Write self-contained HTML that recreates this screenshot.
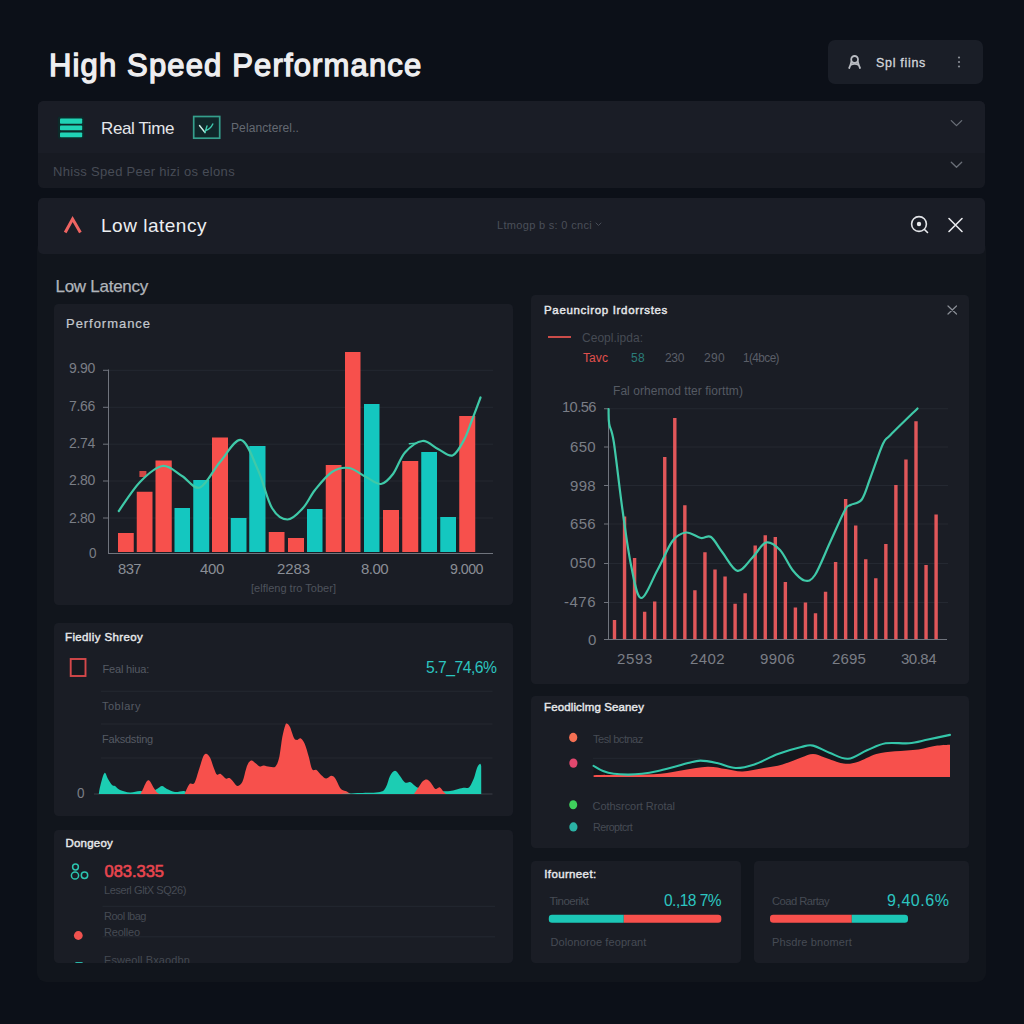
<!DOCTYPE html>
<html><head><meta charset="utf-8"><title>High Speed Performance</title>
<style>
html,body{margin:0;padding:0;}
body{width:1024px;height:1024px;overflow:hidden;background:#0c1018;font-family:"Liberation Sans",sans-serif;position:relative;}
.t{position:absolute;white-space:nowrap;}
.b{position:absolute;}
svg{position:absolute;left:0;top:0;}
</style></head><body>
<!-- top-right button -->
<div class="b" style="left:828px;top:40px;width:155px;height:44px;border-radius:7px;background:#1a1e27;"></div>
<!-- panel 1 -->
<div class="b" style="left:37.5px;top:101px;width:947.5px;height:86.5px;border-radius:5.5px;background:#171a22;overflow:hidden;"><div class="b" style="left:0;top:0;width:949px;height:52px;background:#1a1d26;"></div></div>
<!-- outer container -->
<div class="b" style="left:37px;top:240px;width:949px;height:742px;border-radius:9px;background:#11151c;"></div>
<!-- panel 2 -->
<div class="b" style="left:37.5px;top:197.5px;width:947.5px;height:56px;border-radius:5px;background:#1a1d26;"></div>
<!-- cards -->
<div class="b" style="left:54px;top:304px;width:459px;height:301px;border-radius:4.5px;background:#1a1d25;"></div>
<div class="b" style="left:54px;top:623px;width:459px;height:193px;border-radius:4.5px;background:#1a1d25;"></div>
<div class="b" style="left:54px;top:829.5px;width:459px;height:133px;border-radius:4.5px;background:#1a1d25;"></div>
<div class="b" style="left:531px;top:294.5px;width:438px;height:389.5px;border-radius:4.5px;background:#1a1d25;"></div>
<div class="b" style="left:531px;top:695.5px;width:438px;height:152.5px;border-radius:4.5px;background:#1a1d25;"></div>
<div class="b" style="left:531px;top:860.5px;width:209.5px;height:102px;border-radius:4.5px;background:#1a1d25;"></div>
<div class="b" style="left:753.5px;top:860.5px;width:215.5px;height:102px;border-radius:4.5px;background:#1a1d25;"></div>
<svg width="1024" height="1024" viewBox="0 0 1024 1024">
<!-- icons -->
<g id="icons">
<rect x="57.8" y="116.5" width="26.2" height="22.3" rx="2" fill="#0c2b2a"/><rect x="60" y="118.4" width="22.2" height="5.3" rx="0.8" fill="#20d3b5"/><rect x="60" y="125.6" width="22.2" height="4.6" rx="0.8" fill="#20d3b5"/><rect x="60" y="132.4" width="22.2" height="4.9" rx="0.8" fill="#20d3b5"/>
<rect x="193.7" y="116.5" width="26" height="21.7" fill="#10272a" stroke="#359f8c" stroke-width="1.7"/>
<path d="M199.5,125.5 L205,132.5" fill="none" stroke="#cfeee6" stroke-width="1.4" stroke-linecap="round"/><path d="M205,132.5 L207,126 M206.3,130.3 Q210.5,129 212.8,124" fill="none" stroke="#3fc9ae" stroke-width="1.4" stroke-linecap="round"/>
<path d="M65.2,232.5 L72.6,219 L80.4,232.5" fill="none" stroke="#ee6462" stroke-width="3" stroke-linecap="butt" stroke-linejoin="miter"/>
<!-- user icon -->
<circle cx="854.6" cy="59.4" r="3.4" fill="none" stroke="#b9bcc2" stroke-width="1.8"/><path d="M851.5,61.5 Q850.6,65 849.2,68 M857.7,61.5 Q858.6,65 860,68 M850.6,65 Q854.6,62.6 858.6,65" fill="none" stroke="#b9bcc2" stroke-width="1.8" stroke-linecap="round"/>
<circle cx="959" cy="57.5" r="1.1" fill="#8a8e96"/><circle cx="959" cy="62" r="1.1" fill="#8a8e96"/><circle cx="959" cy="66.5" r="1.1" fill="#8a8e96"/>
<path d="M951.3,120.6 L956.5,125.6 L961.7,120.6" fill="none" stroke="#6a6f78" stroke-width="1.3" stroke-linecap="round" stroke-linejoin="round"/>
<path d="M951.3,162.3 L956.5,167.3 L961.7,162.3" fill="none" stroke="#6a6f78" stroke-width="1.3" stroke-linecap="round" stroke-linejoin="round"/>
<path d="M596,223 L598.5,225.5 L601,223" fill="none" stroke="#474c56" stroke-width="1" stroke-linecap="round"/>
<circle cx="919" cy="224" r="7.4" fill="none" stroke="#e2e4e8" stroke-width="1.6"/><circle cx="919" cy="224" r="2.2" fill="#e8eaed"/><path d="M924.5,229.5 L927.5,232.5" stroke="#e8eaed" stroke-width="1.6" stroke-linecap="round"/>
<path d="M949,218.5 L962,231.5 M962,218.5 L949,231.5" stroke="#e8eaed" stroke-width="1.6" stroke-linecap="round"/>
<path d="M948,306 L956.5,314 M956.5,306 L948,314" stroke="#8a8e96" stroke-width="1.2" stroke-linecap="round"/>
<line x1="548" y1="337" x2="571" y2="337" stroke="#e0524f" stroke-width="1.8"/>
<rect x="70.7" y="659" width="14.8" height="17" fill="#17191f" stroke="#d4484a" stroke-width="1.9"/>
<circle cx="75.5" cy="867" r="2.9" fill="none" stroke="#2cc5b0" stroke-width="1.5"/><circle cx="75" cy="875.5" r="3.6" fill="none" stroke="#2cc5b0" stroke-width="1.5"/><circle cx="84.5" cy="875.3" r="3.2" fill="none" stroke="#2cc5b0" stroke-width="1.5"/>
<circle cx="78.3" cy="935.5" r="4.4" fill="#f0524f"/>
<ellipse cx="573.2" cy="737.5" rx="4.1" ry="4.7" fill="#f47053"/><ellipse cx="573.4" cy="763.1" rx="4.1" ry="4.7" fill="#e2486f"/><ellipse cx="573.2" cy="804.7" rx="4" ry="4.5" fill="#3fd05c"/><ellipse cx="573.4" cy="826.9" rx="4.1" ry="4.6" fill="#2bb3a5"/>
</g>
<g id="lchart">
<line x1="108.6" y1="370.3" x2="493" y2="370.3" stroke="#242831" stroke-width="1"/>
<line x1="103" y1="370.3" x2="108.6" y2="370.3" stroke="#70747d" stroke-width="1"/>
<line x1="108.6" y1="407.3" x2="493" y2="407.3" stroke="#242831" stroke-width="1"/>
<line x1="103" y1="407.3" x2="108.6" y2="407.3" stroke="#70747d" stroke-width="1"/>
<line x1="108.6" y1="444.2" x2="493" y2="444.2" stroke="#242831" stroke-width="1"/>
<line x1="103" y1="444.2" x2="108.6" y2="444.2" stroke="#70747d" stroke-width="1"/>
<line x1="108.6" y1="481" x2="493" y2="481" stroke="#242831" stroke-width="1"/>
<line x1="103" y1="481" x2="108.6" y2="481" stroke="#70747d" stroke-width="1"/>
<line x1="108.6" y1="518" x2="493" y2="518" stroke="#242831" stroke-width="1"/>
<line x1="103" y1="518" x2="108.6" y2="518" stroke="#70747d" stroke-width="1"/>
<line x1="108.5" y1="369.5" x2="108.5" y2="553.7" stroke="#70747d" stroke-width="1"/>
<rect x="139.4" y="471" width="7" height="6" fill="#cf4744"/>
<rect x="118" y="533" width="15.75" height="19" fill="#f7504c"/>
<rect x="136.75" y="491.75" width="15.75" height="60.25" fill="#f7504c"/>
<rect x="155.5" y="460.5" width="16.25" height="91.5" fill="#f7504c"/>
<rect x="174.5" y="508" width="15.5" height="44" fill="#14c7c0"/>
<rect x="193.25" y="480" width="16.0" height="72" fill="#14c7c0"/>
<rect x="212" y="437.5" width="16" height="114.5" fill="#f7504c"/>
<rect x="230.75" y="518" width="15.75" height="34" fill="#14c7c0"/>
<rect x="249.25" y="446" width="16.25" height="106" fill="#14c7c0"/>
<rect x="268.75" y="532" width="15.75" height="20" fill="#f7504c"/>
<rect x="288" y="538" width="16" height="14" fill="#f7504c"/>
<rect x="307" y="509" width="15.5" height="43" fill="#14c7c0"/>
<rect x="325.75" y="465" width="15.75" height="87" fill="#f7504c"/>
<rect x="345" y="352" width="15.5" height="200" fill="#f7504c"/>
<rect x="364" y="404" width="15.5" height="148" fill="#14c7c0"/>
<rect x="383" y="510" width="16" height="42" fill="#f7504c"/>
<rect x="402.25" y="461" width="16.0" height="91" fill="#f7504c"/>
<rect x="421.25" y="452" width="15.75" height="100" fill="#14c7c0"/>
<rect x="440.25" y="517" width="15.75" height="35" fill="#14c7c0"/>
<rect x="459.25" y="416" width="16.0" height="136" fill="#f7504c"/>
<line x1="108" y1="553.5" x2="493" y2="553.5" stroke="#70747d" stroke-width="1"/>
<path d="M118.8,511.0C122.3,506.2 132.7,489.5 140.0,482.0C147.3,474.5 155.5,467.0 162.5,466.0C169.5,465.0 175.8,472.4 182.0,476.0C188.2,479.6 193.7,489.8 200.0,487.5C206.3,485.2 213.2,469.9 220.0,462.0C226.8,454.1 234.7,438.7 241.0,440.0C247.3,441.3 252.8,458.7 258.0,470.0C263.2,481.3 267.1,499.8 272.0,508.0C276.9,516.2 282.3,519.5 287.5,519.5C292.7,519.5 298.4,512.9 303.0,508.0C307.6,503.1 310.2,496.0 315.0,490.0C319.8,484.0 326.3,475.7 332.0,472.0C337.7,468.3 343.3,467.2 349.0,468.0C354.7,468.8 360.7,474.3 366.0,477.0C371.3,479.7 376.5,484.5 381.0,484.0C385.5,483.5 389.0,479.2 393.0,474.0C397.0,468.8 400.1,458.0 405.0,452.5C409.9,447.0 417.0,441.6 422.5,441.0C428.0,440.4 433.0,446.6 438.0,449.0C443.0,451.4 448.2,457.0 452.5,455.5C456.8,454.0 460.8,445.9 464.0,440.0C467.2,434.1 469.2,427.1 472.0,420.0C474.8,412.9 479.1,401.2 480.5,397.5" fill="none" stroke="#3fc9a8" stroke-width="2.2" stroke-linecap="round"/>
<line x1="409.3" y1="443.8" x2="416" y2="443.2" stroke="#3fc9a8" stroke-width="1.4" stroke-linecap="round"/>
</g>
<g id="rchart">
<line x1="608.6" y1="408.75" x2="948" y2="408.75" stroke="#242831" stroke-width="1"/>
<line x1="604" y1="408.75" x2="608.6" y2="408.75" stroke="#70747d" stroke-width="1"/>
<line x1="608.6" y1="447" x2="948" y2="447" stroke="#242831" stroke-width="1"/>
<line x1="604" y1="447" x2="608.6" y2="447" stroke="#70747d" stroke-width="1"/>
<line x1="608.6" y1="485.5" x2="948" y2="485.5" stroke="#242831" stroke-width="1"/>
<line x1="604" y1="485.5" x2="608.6" y2="485.5" stroke="#70747d" stroke-width="1"/>
<line x1="608.6" y1="524" x2="948" y2="524" stroke="#242831" stroke-width="1"/>
<line x1="604" y1="524" x2="608.6" y2="524" stroke="#70747d" stroke-width="1"/>
<line x1="608.6" y1="563.5" x2="948" y2="563.5" stroke="#242831" stroke-width="1"/>
<line x1="604" y1="563.5" x2="608.6" y2="563.5" stroke="#70747d" stroke-width="1"/>
<line x1="608.6" y1="602.5" x2="948" y2="602.5" stroke="#242831" stroke-width="1"/>
<line x1="604" y1="602.5" x2="608.6" y2="602.5" stroke="#70747d" stroke-width="1"/>
<line x1="608.5" y1="408" x2="608.5" y2="639.5" stroke="#70747d" stroke-width="1"/>
<rect x="612.80" y="620" width="3.4" height="19" fill="#e1575a"/>
<rect x="622.85" y="516.5" width="3.4" height="122.5" fill="#e1575a"/>
<rect x="632.90" y="558" width="3.4" height="81" fill="#e1575a"/>
<rect x="642.95" y="611.75" width="3.4" height="27.25" fill="#e1575a"/>
<rect x="653.00" y="601.5" width="3.4" height="37.5" fill="#e1575a"/>
<rect x="663.05" y="457" width="3.4" height="182" fill="#e1575a"/>
<rect x="673.10" y="418" width="3.4" height="221" fill="#e1575a"/>
<rect x="683.15" y="505.25" width="3.4" height="133.75" fill="#e1575a"/>
<rect x="693.20" y="590.25" width="3.4" height="48.75" fill="#e1575a"/>
<rect x="703.25" y="552.25" width="3.4" height="86.75" fill="#e1575a"/>
<rect x="713.30" y="569.5" width="3.4" height="69.5" fill="#e1575a"/>
<rect x="723.35" y="576.5" width="3.4" height="62.5" fill="#e1575a"/>
<rect x="733.40" y="603.75" width="3.4" height="35.25" fill="#e1575a"/>
<rect x="743.45" y="593.25" width="3.4" height="45.75" fill="#e1575a"/>
<rect x="753.50" y="545.5" width="3.4" height="93.5" fill="#e1575a"/>
<rect x="763.55" y="535.25" width="3.4" height="103.75" fill="#e1575a"/>
<rect x="773.60" y="537" width="3.4" height="102" fill="#e1575a"/>
<rect x="783.65" y="582" width="3.4" height="57" fill="#e1575a"/>
<rect x="793.70" y="607.5" width="3.4" height="31.5" fill="#e1575a"/>
<rect x="803.75" y="602.5" width="3.4" height="36.5" fill="#e1575a"/>
<rect x="813.80" y="613.25" width="3.4" height="25.75" fill="#e1575a"/>
<rect x="823.85" y="591.75" width="3.4" height="47.25" fill="#e1575a"/>
<rect x="833.90" y="562" width="3.4" height="77" fill="#e1575a"/>
<rect x="843.95" y="499" width="3.4" height="140" fill="#e1575a"/>
<rect x="854.00" y="525.5" width="3.4" height="113.5" fill="#e1575a"/>
<rect x="864.05" y="559.25" width="3.4" height="79.75" fill="#e1575a"/>
<rect x="874.10" y="578.25" width="3.4" height="60.75" fill="#e1575a"/>
<rect x="884.15" y="544" width="3.4" height="95" fill="#e1575a"/>
<rect x="894.20" y="485" width="3.4" height="154" fill="#e1575a"/>
<rect x="904.25" y="459.5" width="3.4" height="179.5" fill="#e1575a"/>
<rect x="914.30" y="421.25" width="3.4" height="217.75" fill="#e1575a"/>
<rect x="924.35" y="565" width="3.4" height="74" fill="#e1575a"/>
<rect x="934.40" y="514.5" width="3.4" height="124.5" fill="#e1575a"/>
<line x1="604" y1="639.5" x2="947" y2="639.5" stroke="#70747d" stroke-width="1"/>
<path d="M608.6,409.0C608.7,411.5 608.3,418.5 609.2,424.0C610.1,429.5 611.5,427.7 613.8,442.0C616.0,456.3 619.6,489.5 622.5,510.0C625.4,530.5 627.9,550.3 631.0,565.0C634.1,579.7 636.6,597.2 641.0,598.0C645.4,598.8 652.2,579.5 657.5,570.0C662.8,560.5 667.8,547.2 672.5,541.0C677.2,534.8 681.2,533.0 686.0,532.5C690.8,532.0 696.8,537.2 701.0,538.0C705.2,538.8 707.4,534.6 711.0,537.0C714.6,539.4 718.1,546.9 722.5,552.5C726.9,558.1 732.5,569.9 737.5,570.8C742.5,571.6 747.8,562.2 752.5,557.5C757.2,552.8 761.4,543.8 766.0,542.5C770.6,541.2 775.6,545.4 780.0,550.0C784.4,554.6 788.4,564.9 792.5,570.0C796.6,575.1 800.8,579.7 804.5,580.5C808.2,581.3 810.8,581.3 815.0,575.0C819.2,568.7 825.0,553.3 830.0,542.5C835.0,531.7 841.6,516.2 845.0,510.0C848.4,503.8 847.7,506.8 850.5,505.0C853.3,503.2 858.4,504.1 861.8,499.5C865.1,494.9 867.0,486.8 870.5,477.5C874.0,468.2 879.7,450.8 883.0,443.8C886.3,436.7 884.8,440.9 890.5,435.0C896.2,429.1 913.0,412.9 917.5,408.5" fill="none" stroke="#3fc9a8" stroke-width="2.2" stroke-linecap="round"/>
</g>
<g id="area1">
<line x1="101" y1="691.25" x2="492.5" y2="691.25" stroke="#242831" stroke-width="1"/>
<line x1="101" y1="724" x2="492.5" y2="724" stroke="#242831" stroke-width="1"/>
<line x1="101" y1="758" x2="492.5" y2="758" stroke="#242831" stroke-width="1"/>
<line x1="94" y1="794" x2="492.5" y2="794" stroke="#3a3e47" stroke-width="1"/>
<path d="M98.8,794.0C99.0,792.5 99.5,788.5 100.5,785.0C101.5,781.5 103.2,774.0 104.5,773.0C105.8,772.0 106.8,777.0 108.0,779.0C109.2,781.0 110.8,783.8 112.0,785.0C113.2,786.2 113.7,785.2 115.0,786.0C116.3,786.8 117.5,788.9 120.0,790.0C122.5,791.1 126.7,792.3 130.0,792.5C133.3,792.7 136.7,791.1 140.0,791.0C143.3,790.9 147.2,792.3 150.0,792.0C152.8,791.7 155.0,790.0 157.0,789.0C159.0,788.0 160.3,786.0 162.0,786.0C163.7,786.0 164.8,788.0 167.0,789.0C169.2,790.0 172.2,791.7 175.0,792.0C177.8,792.3 181.8,790.7 184.0,791.0C186.2,791.3 187.3,793.5 188.0,794.0L188,794L98.75,794Z" fill="#1ccdb3"/>
<path d="M140.5,794.0C140.9,793.2 142.1,790.9 143.0,789.0C143.9,787.1 145.1,784.0 146.0,782.5C146.9,781.0 147.6,780.4 148.3,780.3C149.1,780.2 149.6,780.8 150.5,782.0C151.4,783.2 152.4,785.8 153.5,787.5C154.6,789.2 156.0,791.4 157.0,792.5C158.0,793.6 159.1,793.8 159.5,794.0Z" fill="#f7504c"/>
<path d="M184.6,794.0C185.4,792.3 187.9,785.8 189.5,784.0C191.1,782.2 192.8,785.6 194.4,783.0C196.0,780.4 197.8,772.8 199.3,768.4C200.8,764.0 202.1,759.0 203.2,756.6C204.3,754.2 205.0,753.5 206.1,753.7C207.2,753.9 208.7,755.2 210.0,757.6C211.3,760.0 212.8,765.6 214.0,768.4C215.2,771.2 215.8,773.7 216.9,774.6C218.0,775.5 218.9,773.1 220.4,773.8C221.9,774.4 224.2,777.8 225.7,778.5C227.2,779.2 228.3,777.5 229.6,778.1C230.9,778.7 232.2,780.7 233.5,782.0C234.8,783.3 235.9,786.0 237.4,786.0C238.9,786.0 240.8,784.9 242.3,782.0C243.8,779.1 245.1,771.7 246.2,768.4C247.3,765.1 248.1,763.4 249.1,762.1C250.1,760.8 250.9,760.3 252.0,760.5C253.1,760.7 254.6,762.5 255.9,763.5C257.2,764.5 258.5,766.1 259.8,766.4C261.1,766.7 262.1,765.3 263.8,765.4C265.4,765.5 267.6,766.6 269.6,766.8C271.6,767.0 273.9,768.1 275.5,766.4C277.1,764.7 278.3,761.5 279.4,756.6C280.5,751.7 281.3,742.3 282.3,737.1C283.3,731.9 284.4,727.6 285.2,725.4C286.0,723.2 286.4,723.5 287.2,723.8C288.0,724.1 289.0,724.9 290.1,727.3C291.2,729.7 292.9,736.0 294.0,738.1C295.1,740.2 295.9,739.9 297.0,740.0C298.1,740.1 299.6,737.8 300.9,738.5C302.2,739.2 303.5,741.0 304.8,744.0C306.1,747.0 307.5,752.4 308.7,756.6C309.9,760.8 310.9,767.1 312.2,769.3C313.5,771.5 315.0,768.9 316.5,769.9C318.0,770.9 319.8,773.8 321.4,775.2C323.0,776.6 324.6,778.4 326.2,778.5C327.9,778.6 329.6,775.9 331.1,775.8C332.6,775.7 333.7,776.4 335.0,778.1C336.3,779.8 337.9,784.0 339.0,786.0C340.1,788.0 340.6,788.9 341.9,789.8C343.2,790.7 345.3,790.7 346.8,791.4C348.2,792.1 350.0,793.6 350.7,794.0L350.7,794L184.6,794Z" fill="#f7504c"/>
<path d="M340.0,794.0C343.3,793.8 353.3,793.3 360.0,793.0C366.7,792.7 375.7,793.0 380.0,792.0C384.3,791.0 384.3,789.7 386.0,787.0C387.7,784.3 388.5,778.7 390.0,776.0C391.5,773.3 393.3,770.8 395.0,770.8C396.7,770.8 398.3,774.0 400.0,776.0C401.7,778.0 403.3,781.5 405.0,782.5C406.7,783.5 408.5,781.6 410.0,782.0C411.5,782.4 412.8,784.1 414.0,785.0C415.2,785.9 415.7,786.7 417.5,787.5C419.3,788.3 421.2,789.4 425.0,790.0C428.8,790.6 435.8,790.8 440.0,791.0C444.2,791.2 446.2,791.5 450.0,791.0C453.8,790.5 459.7,788.5 462.5,788.0C465.3,787.5 465.8,788.3 467.0,788.0C468.2,787.7 468.8,787.9 470.0,786.2C471.2,784.6 472.8,781.0 474.0,778.0C475.2,775.0 476.0,770.4 477.0,768.0C478.0,765.6 479.3,764.1 480.0,763.8C480.7,763.4 481.0,765.6 481.2,766.0L481.25,794L340,794Z" fill="#1ccdb3"/>
<path d="M414.0,794.0C414.7,793.0 416.5,790.2 418.0,788.0C419.5,785.8 421.5,782.4 423.0,781.0C424.5,779.6 425.7,779.2 427.0,779.5C428.3,779.8 429.7,781.5 431.0,783.0C432.3,784.5 433.8,787.9 435.0,788.8C436.2,789.6 437.2,788.2 438.0,788.0C438.8,787.8 439.0,786.8 440.0,787.5C441.0,788.2 442.8,790.9 443.8,792.0C444.8,793.1 445.6,793.7 446.0,794.0Z" fill="#f7504c"/>
</g>
<g id="area2">
<line x1="593" y1="758.3" x2="700" y2="758.3" stroke="#242831" stroke-width="1"/>
<path d="M593.6,765.8C595.2,766.7 599.6,769.7 603.0,771.0C606.4,772.3 609.6,773.2 613.8,773.8C618.0,774.4 623.3,774.6 628.0,774.6C632.7,774.6 637.0,774.4 642.0,773.8C647.0,773.2 652.5,772.2 658.0,771.0C663.5,769.8 669.7,768.0 674.7,766.7C679.7,765.4 683.7,764.0 688.0,763.0C692.3,762.0 695.7,760.6 700.5,760.6C705.3,760.6 711.1,761.8 717.0,763.0C722.9,764.2 729.5,767.8 735.7,768.0C741.9,768.2 747.4,766.7 754.4,764.4C761.4,762.1 770.1,756.9 777.9,754.0C785.7,751.1 795.4,748.4 801.3,747.0C807.1,745.6 808.3,744.6 813.0,745.6C817.7,746.6 823.6,750.5 829.4,752.7C835.2,754.9 841.7,759.2 848.0,758.8C854.3,758.4 860.7,752.9 867.0,750.3C873.3,747.7 878.7,744.5 885.7,743.3C892.7,742.1 902.0,743.9 909.0,743.3C916.0,742.7 921.2,740.9 928.0,739.5C934.8,738.1 946.3,735.7 950.0,734.9L950,777L593.6,777Z" fill="#14171d"/>
<path d="M593.6,775.2C599.7,775.1 618.8,775.0 630.0,774.8C641.2,774.6 651.6,774.6 660.6,773.8C669.6,773.0 676.2,771.2 684.0,770.0C691.8,768.8 700.5,766.9 707.5,766.7C714.5,766.5 720.1,768.2 726.0,769.0C731.9,769.8 736.4,771.6 742.7,771.4C749.0,771.2 757.2,769.2 763.8,768.0C770.4,766.8 776.2,766.2 782.5,764.4C788.8,762.6 796.2,759.1 801.3,757.4C806.4,755.7 809.1,754.0 813.0,754.0C816.9,754.0 819.6,755.8 824.7,757.4C829.8,759.0 838.0,762.7 843.5,763.5C849.0,764.3 852.0,763.6 857.5,762.0C863.0,760.4 870.0,755.8 876.3,754.0C882.5,752.2 888.0,752.1 895.0,751.3C902.0,750.5 911.5,750.3 918.5,749.4C925.5,748.5 932.0,746.4 937.3,745.6C942.5,744.8 947.9,744.9 950.0,744.7L950,777L593.6,777Z" fill="#f7504c"/>
<path d="M593.6,765.8C595.2,766.7 599.6,769.7 603.0,771.0C606.4,772.3 609.6,773.2 613.8,773.8C618.0,774.4 623.3,774.6 628.0,774.6C632.7,774.6 637.0,774.4 642.0,773.8C647.0,773.2 652.5,772.2 658.0,771.0C663.5,769.8 669.7,768.0 674.7,766.7C679.7,765.4 683.7,764.0 688.0,763.0C692.3,762.0 695.7,760.6 700.5,760.6C705.3,760.6 711.1,761.8 717.0,763.0C722.9,764.2 729.5,767.8 735.7,768.0C741.9,768.2 747.4,766.7 754.4,764.4C761.4,762.1 770.1,756.9 777.9,754.0C785.7,751.1 795.4,748.4 801.3,747.0C807.1,745.6 808.3,744.6 813.0,745.6C817.7,746.6 823.6,750.5 829.4,752.7C835.2,754.9 841.7,759.2 848.0,758.8C854.3,758.4 860.7,752.9 867.0,750.3C873.3,747.7 878.7,744.5 885.7,743.3C892.7,742.1 902.0,743.9 909.0,743.3C916.0,742.7 921.2,740.9 928.0,739.5C934.8,738.1 946.3,735.7 950.0,734.9" fill="none" stroke="#34c6aa" stroke-width="2.1" stroke-linecap="round"/>
</g>
<!-- gridlines card3 -->
<line x1="102.5" y1="906.3" x2="495" y2="906.3" stroke="#242831" stroke-width="1"/>
<line x1="102.5" y1="936.8" x2="495" y2="936.8" stroke="#242831" stroke-width="1"/>
<!-- progress bars -->
<clipPath id="pb1"><rect x="548.8" y="914.8" width="172.5" height="8" rx="3.2"/></clipPath>
<g clip-path="url(#pb1)"><rect x="548" y="914" width="75.8" height="10" fill="#1cc6b6"/><rect x="623.8" y="914" width="100" height="10" fill="#f7504c"/></g>
<clipPath id="pb2"><rect x="770" y="914.8" width="138" height="8" rx="3.2"/></clipPath>
<g clip-path="url(#pb2)"><rect x="769" y="914" width="82.8" height="10" fill="#f7504c"/><rect x="851.8" y="914" width="60" height="10" fill="#1cc6b6"/></g>
</svg>
<!-- clipped bottom text in card 3 -->
<div class="b" style="left:54px;top:940px;width:459px;height:22.5px;overflow:hidden;">
 <span class="t" style="left:50px;top:13px;font-size:11px;line-height:14px;color:#444952;letter-spacing:0.1px;">Esweoll Bxaodbn</span>
 <div class="b" style="left:21px;top:21.7px;width:8px;height:3px;border-radius:2px;background:#2ab5a8;"></div>
</div>
<span class="t" id="t0" style="left:49px;top:47.00px;font-size:31px;line-height:37px;color:#eeeef0;font-weight:400;-webkit-text-stroke:1.30px #eeeef0;letter-spacing:1.15px;">High Speed Performance</span>
<span class="t" id="t1" style="left:876px;top:56.00px;font-size:12.5px;line-height:15px;color:#d4d7dc;font-weight:400;-webkit-text-stroke:0.29px #d4d7dc;letter-spacing:0.69px;">Spl fiins</span>
<span class="t" id="t2" style="left:101px;top:119.00px;font-size:17px;line-height:20px;color:#e4e6ea;font-weight:400;letter-spacing:-0.39px;">Real Time</span>
<span class="t" id="t3" style="left:231px;top:121.00px;font-size:12px;line-height:14px;color:#646972;font-weight:400;letter-spacing:0.10px;">Pelancterel..</span>
<span class="t" id="t4" style="left:53px;top:164.00px;font-size:13px;line-height:16px;color:#474c56;font-weight:400;letter-spacing:0.32px;">Nhiss Sped Peer hizi os elons</span>
<span class="t" id="t5" style="left:101px;top:214.00px;font-size:19px;line-height:23px;color:#eceef1;font-weight:400;letter-spacing:0.51px;">Low latency</span>
<span class="t" id="t6" style="left:497px;top:219.00px;font-size:11px;line-height:13px;color:#4a4f59;font-weight:400;letter-spacing:0.32px;">Ltmogp b s: 0 cnci</span>
<span class="t" id="t7" style="left:55.5px;top:277.00px;font-size:17px;line-height:20px;color:#b0b4ba;font-weight:400;-webkit-text-stroke:0.25px #b0b4ba;letter-spacing:-0.27px;">Low Latency</span>
<span class="t" id="t8" style="left:66px;top:316.00px;font-size:13px;line-height:16px;color:#c4c8ce;font-weight:400;-webkit-text-stroke:0.20px #c4c8ce;letter-spacing:0.96px;">Performance</span>
<span class="t" id="t9" style="left:69px;top:360.00px;font-size:14px;line-height:17px;color:#7a7e86;font-weight:400;letter-spacing:-0.31px;">9.90</span>
<span class="t" id="t10" style="left:69px;top:398.00px;font-size:14px;line-height:17px;color:#7a7e86;font-weight:400;letter-spacing:-0.31px;">7.66</span>
<span class="t" id="t11" style="left:69px;top:435.00px;font-size:14px;line-height:17px;color:#7a7e86;font-weight:400;letter-spacing:-0.31px;">2.74</span>
<span class="t" id="t12" style="left:69px;top:472.00px;font-size:14px;line-height:17px;color:#7a7e86;font-weight:400;letter-spacing:-0.31px;">2.80</span>
<span class="t" id="t13" style="left:69px;top:510.00px;font-size:14px;line-height:17px;color:#7a7e86;font-weight:400;letter-spacing:-0.31px;">2.80</span>
<span class="t" id="t14" style="left:89px;top:545.00px;font-size:14px;line-height:17px;color:#7a7e86;font-weight:400;letter-spacing:-0.55px;transform:scaleX(0.966);transform-origin:0 50%;">0</span>
<span class="t" id="t15" style="left:118px;top:560.00px;font-size:15px;line-height:18px;color:#8a8e96;font-weight:400;letter-spacing:-0.55px;transform:scaleX(0.984);transform-origin:0 50%;">837</span>
<span class="t" id="t16" style="left:200px;top:560.00px;font-size:15px;line-height:18px;color:#8a8e96;font-weight:400;letter-spacing:-0.34px;">400</span>
<span class="t" id="t17" style="left:277px;top:560.00px;font-size:15px;line-height:18px;color:#8a8e96;font-weight:400;letter-spacing:-0.09px;">2283</span>
<span class="t" id="t18" style="left:361px;top:560.00px;font-size:15px;line-height:18px;color:#8a8e96;font-weight:400;letter-spacing:-0.55px;">8.00</span>
<span class="t" id="t19" style="left:450px;top:560.00px;font-size:15px;line-height:18px;color:#8a8e96;font-weight:400;letter-spacing:-0.55px;transform:scaleX(0.948);transform-origin:0 50%;">9.000</span>
<span class="t" id="t20" style="left:251px;top:582.00px;font-size:11px;line-height:13px;color:#4e535c;font-weight:400;letter-spacing:0.01px;">[elfleng tro Tober]</span>
<span class="t" id="t21" style="left:544px;top:303.00px;font-size:11.5px;line-height:14px;color:#e6e8eb;font-weight:400;-webkit-text-stroke:0.42px #e6e8eb;letter-spacing:0.67px;">Paeuncirop Irdorrstes</span>
<span class="t" id="t22" style="left:582px;top:331.00px;font-size:12px;line-height:14px;color:#464b54;font-weight:400;letter-spacing:0.03px;">Ceopl.ipda:</span>
<span class="t" id="t23" style="left:583px;top:351.00px;font-size:12px;line-height:14px;color:#e0504d;font-weight:400;letter-spacing:0.08px;">Tavc</span>
<span class="t" id="t24" style="left:631px;top:351.00px;font-size:12px;line-height:14px;color:#2a7d7a;font-weight:400;letter-spacing:0.32px;">58</span>
<span class="t" id="t25" style="left:665px;top:351.00px;font-size:12px;line-height:14px;color:#5a5f68;font-weight:400;letter-spacing:-0.34px;">230</span>
<span class="t" id="t26" style="left:704px;top:351.00px;font-size:12px;line-height:14px;color:#5a5f68;font-weight:400;letter-spacing:0.32px;">290</span>
<span class="t" id="t27" style="left:743px;top:351.00px;font-size:12px;line-height:14px;color:#5a5f68;font-weight:400;letter-spacing:-0.55px;transform:scaleX(0.977);transform-origin:0 50%;">1(4bce)</span>
<span class="t" id="t28" style="left:613px;top:384.00px;font-size:12px;line-height:14px;color:#555a63;font-weight:400;letter-spacing:0.05px;">Fal orhemod tter fiorttm)</span>
<span class="t" id="t29" style="left:562px;top:398.00px;font-size:15px;line-height:18px;color:#7a7e86;font-weight:400;letter-spacing:-0.55px;transform:scaleX(0.977);transform-origin:0 50%;">10.56</span>
<span class="t" id="t30" style="left:570px;top:438.00px;font-size:15px;line-height:18px;color:#7a7e86;font-weight:400;letter-spacing:0.32px;">650</span>
<span class="t" id="t31" style="left:570px;top:477.00px;font-size:15px;line-height:18px;color:#7a7e86;font-weight:400;letter-spacing:0.32px;">998</span>
<span class="t" id="t32" style="left:570px;top:515.00px;font-size:15px;line-height:18px;color:#7a7e86;font-weight:400;letter-spacing:0.32px;">656</span>
<span class="t" id="t33" style="left:570px;top:554.00px;font-size:15px;line-height:18px;color:#7a7e86;font-weight:400;letter-spacing:0.32px;">050</span>
<span class="t" id="t34" style="left:564px;top:593.00px;font-size:15px;line-height:18px;color:#7a7e86;font-weight:400;letter-spacing:0.49px;">-476</span>
<span class="t" id="t35" style="left:588px;top:631.00px;font-size:15px;line-height:18px;color:#7a7e86;font-weight:400;letter-spacing:-0.34px;">0</span>
<span class="t" id="t36" style="left:617px;top:650.00px;font-size:15px;line-height:18px;color:#7a7e86;font-weight:400;letter-spacing:0.66px;">2593</span>
<span class="t" id="t37" style="left:690px;top:650.00px;font-size:15px;line-height:18px;color:#7a7e86;font-weight:400;letter-spacing:0.41px;">2402</span>
<span class="t" id="t38" style="left:760px;top:650.00px;font-size:15px;line-height:18px;color:#7a7e86;font-weight:400;letter-spacing:0.41px;">9906</span>
<span class="t" id="t39" style="left:832px;top:650.00px;font-size:15px;line-height:18px;color:#7a7e86;font-weight:400;letter-spacing:0.16px;">2695</span>
<span class="t" id="t40" style="left:901px;top:650.00px;font-size:15px;line-height:18px;color:#7a7e86;font-weight:400;letter-spacing:-0.51px;">30.84</span>
<span class="t" id="t41" style="left:65px;top:630.00px;font-size:11.5px;line-height:14px;color:#e6e8eb;font-weight:400;-webkit-text-stroke:0.42px #e6e8eb;letter-spacing:0.37px;">Fiedliy Shreoy</span>
<span class="t" id="t42" style="left:102.5px;top:663.00px;font-size:11px;line-height:13px;color:#555a63;font-weight:400;letter-spacing:-0.18px;">Feal hiua:</span>
<span class="t" id="t43" style="left:102px;top:700.00px;font-size:11px;line-height:13px;color:#555a63;font-weight:400;letter-spacing:0.50px;">Toblary</span>
<span class="t" id="t44" style="left:102px;top:733.00px;font-size:11px;line-height:13px;color:#555a63;font-weight:400;letter-spacing:-0.22px;">Faksdsting</span>
<span class="t" id="t45" style="left:77px;top:785.00px;font-size:14px;line-height:17px;color:#7a7e86;font-weight:400;letter-spacing:-0.55px;transform:scaleX(0.966);transform-origin:0 50%;">0</span>
<span class="t" id="t46" style="left:425.5px;top:658.00px;font-size:17px;line-height:20px;color:#2cc5c0;font-weight:400;letter-spacing:-0.55px;transform:scaleX(0.923);transform-origin:0 50%;">5.7_74,6%</span>
<span class="t" id="t47" style="left:65.5px;top:836.00px;font-size:11.5px;line-height:14px;color:#e6e8eb;font-weight:400;-webkit-text-stroke:0.42px #e6e8eb;letter-spacing:0.21px;">Dongeoy</span>
<span class="t" id="t48" style="left:104.5px;top:861.00px;font-size:16.5px;line-height:20px;color:#e8464f;font-weight:400;-webkit-text-stroke:0.60px #e8464f;letter-spacing:-0.02px;">083.335</span>
<span class="t" id="t49" style="left:104px;top:884.00px;font-size:11px;line-height:13px;color:#464b54;font-weight:400;letter-spacing:-0.43px;">Leserl GltX SQ26)</span>
<span class="t" id="t50" style="left:104px;top:910.00px;font-size:11px;line-height:13px;color:#464b54;font-weight:400;letter-spacing:-0.50px;">Rool lbag</span>
<span class="t" id="t51" style="left:104px;top:926.00px;font-size:11px;line-height:13px;color:#464b54;font-weight:400;letter-spacing:-0.19px;">Reolleo</span>
<span class="t" id="t52" style="left:544px;top:700.00px;font-size:11.5px;line-height:14px;color:#e6e8eb;font-weight:400;-webkit-text-stroke:0.42px #e6e8eb;letter-spacing:0.13px;">Feodliclmg Seaney</span>
<span class="t" id="t53" style="left:592.7px;top:732.00px;font-size:11.5px;line-height:14px;color:#464b54;font-weight:400;letter-spacing:-0.55px;transform:scaleX(0.967);transform-origin:0 50%;">Tesl bctnaz</span>
<span class="t" id="t54" style="left:592.5px;top:800.00px;font-size:11px;line-height:13px;color:#464b54;font-weight:400;letter-spacing:-0.04px;">Cothsrcort Rrotal</span>
<span class="t" id="t55" style="left:592.7px;top:821.00px;font-size:11px;line-height:13px;color:#464b54;font-weight:400;letter-spacing:-0.55px;transform:scaleX(0.975);transform-origin:0 50%;">Reroptcrt</span>
<span class="t" id="t56" style="left:544.3px;top:867.00px;font-size:11.5px;line-height:14px;color:#e6e8eb;font-weight:400;-webkit-text-stroke:0.42px #e6e8eb;letter-spacing:0.36px;">Ifourneet:</span>
<span class="t" id="t57" style="left:549.5px;top:894.00px;font-size:11.5px;line-height:14px;color:#464b54;font-weight:400;letter-spacing:-0.52px;">Tinoerikt</span>
<span class="t" id="t58" style="left:664px;top:891.00px;font-size:16px;line-height:19px;color:#2cc5c0;font-weight:400;letter-spacing:-0.55px;transform:scaleX(0.970);transform-origin:0 50%;">0.,18 7%</span>
<span class="t" id="t59" style="left:550.5px;top:936.00px;font-size:11px;line-height:13px;color:#464b54;font-weight:400;letter-spacing:0.10px;">Dolonoroe feoprant</span>
<span class="t" id="t60" style="left:772px;top:894.00px;font-size:11.5px;line-height:14px;color:#464b54;font-weight:400;letter-spacing:-0.55px;transform:scaleX(0.974);transform-origin:0 50%;">Coad Rartay</span>
<span class="t" id="t61" style="left:887px;top:891.00px;font-size:16px;line-height:19px;color:#2cc5c0;font-weight:400;letter-spacing:0.54px;">9,40.6%</span>
<span class="t" id="t62" style="left:772px;top:936.00px;font-size:11px;line-height:13px;color:#464b54;font-weight:400;letter-spacing:0.12px;">Phsdre bnomert</span>
</body></html>
